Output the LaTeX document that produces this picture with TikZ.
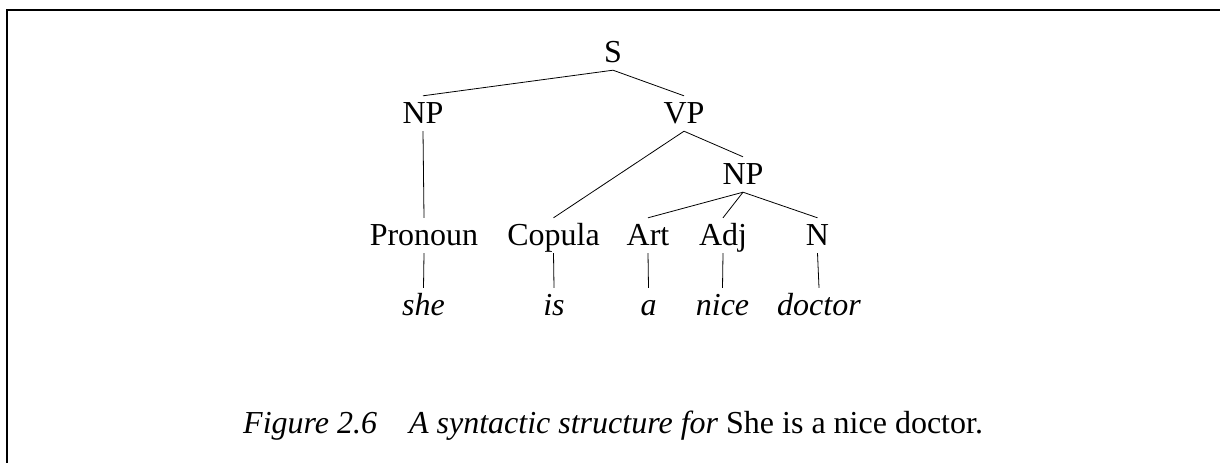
\documentclass[tikz,border=0pt]{standalone}
\usepackage{fontspec}
\setmainfont{Liberation Serif}
\begin{document}
\begin{tikzpicture}[x=1pt,y=-1pt,
  cat/.style={anchor=base,inner xsep=0pt,inner ysep=6pt,text height=21pt,text depth=2pt,
    font=\fontsize{32}{38}\selectfont},
  word/.style={cat,font=\fontsize{32}{38}\selectfont\itshape},
  branch/.style={line width=0.8pt},
  frame/.style={line width=2pt}]
\useasboundingbox (0,0) rectangle (1220,463);
% partial frame: top and left rules
\coordinate (ftl) at (7,10);
\coordinate (ftr) at (1220,10);
\coordinate (fbl) at (7,463);
\draw[frame] (ftr) -- (ftl) -- (fbl);

% categories
\node[cat] (S)   at (613,62)  {S};
\node[cat] (NP1) at (423,123) {NP};
\node[cat] (VP)  at (684,123) {VP};
\node[cat] (NP2) at (743,184) {NP};
\node[cat] (Pro) at (424,245) {Pronoun};
\node[cat] (Cop) at (553.5,245) {Copula};
\node[cat] (Art) at (648,245) {Art};
\node[cat] (Adj) at (723,245) {Adj};
\node[cat] (N)   at (817.5,245) {N};

% words
\node[word] (she) at (423.5,315) {she};
\node[word] (is)  at (554,315) {is};
\node[word] (a)   at (648.5,315) {a};
\node[word] (nice) at (722.5,315) {nice};
\node[word] (doctor) at (819,315) {doctor};

% branches
\draw[branch] (S.south) -- (NP1.north);
\draw[branch] (S.south) -- (VP.north);
\draw[branch] (NP1.south) -- (Pro.north);
\draw[branch] (VP.south) -- (Cop.north);
\draw[branch] (VP.south) -- (NP2.north);
\draw[branch] (NP2.south) -- (Art.north);
\draw[branch] (NP2.south) -- (Adj.north);
\draw[branch] (NP2.south) -- (N.north);
\draw[branch] (Pro.south) -- (she.north);
\draw[branch] (Cop.south) -- (is.north);
\draw[branch] (Art.south) -- (a.north);
\draw[branch] (Adj.south) -- (nice.north);
\draw[branch] (N.south) -- (doctor.north);

% caption
\node[anchor=base west,inner sep=0pt,font=\fontsize{32}{38}\selectfont] (cap) at (243,433)
  {\textit{Figure 2.6}\quad\textit{A syntactic structure for} She is a nice doctor.};
\end{tikzpicture}
\end{document}
